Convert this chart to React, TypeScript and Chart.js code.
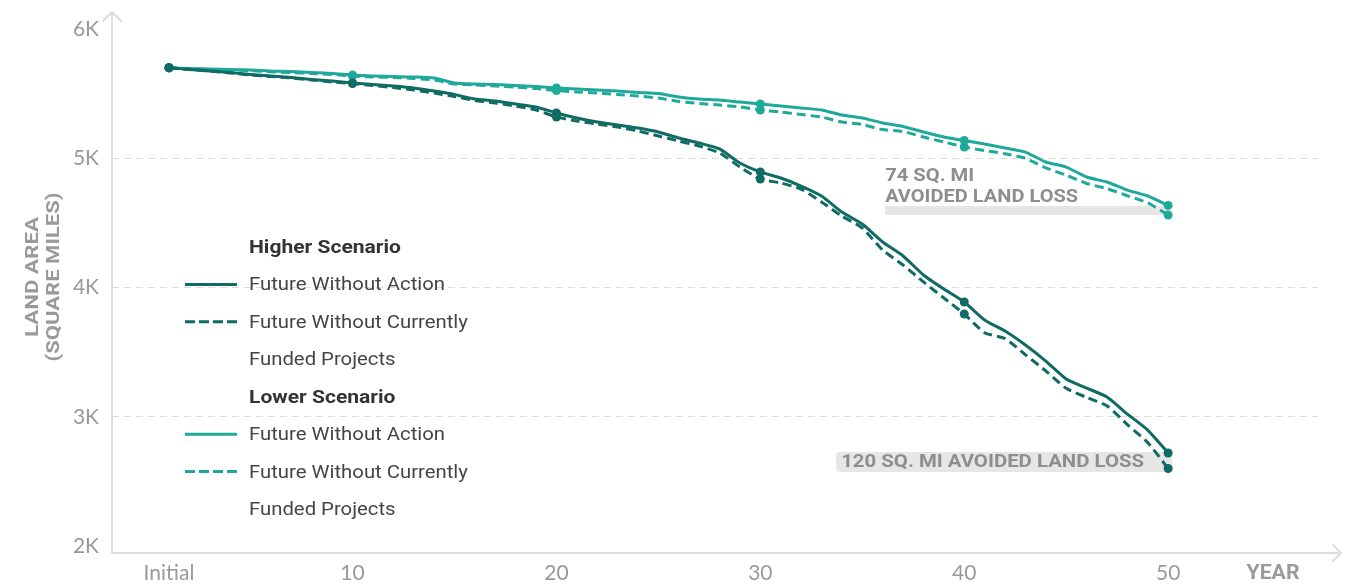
import React, { useEffect, useRef } from "react";
import { Chart, registerables } from "chart.js";

Chart.register(...registerables);

// ---------- DATA ----------
const years = [
  1, 2, 3, 4, 5, 6, 7, 8, 9, 10,
  11, 12, 13, 14, 15, 16, 17, 18, 19, 20,
  21, 22, 23, 24, 25, 26, 27, 28, 29, 30,
  31, 32, 33, 34, 35, 36, 37, 38, 39, 40,
  41, 42, 43, 44, 45, 46, 47, 48, 49, 50,
];

const higherWithoutAction = [
  5700, 5687, 5675, 5663, 5648, 5636, 5625, 5609, 5598, 5582,
  5571, 5559, 5544, 5520, 5493, 5458, 5443, 5420, 5397, 5350,
  5311, 5280, 5257, 5234, 5203, 5157, 5118, 5072, 4963, 4894,
  4847, 4785, 4708, 4584, 4491, 4352, 4244, 4097, 3988, 3888,
  3749, 3663, 3555, 3431, 3292, 3222, 3153, 3021, 2897, 2720,
];

const higherWithoutFunded = [
  5700, 5687, 5675, 5660, 5644, 5633, 5621, 5605, 5590, 5578,
  5563, 5547, 5528, 5505, 5478, 5447, 5427, 5404, 5373, 5319,
  5288, 5265, 5242, 5211, 5172, 5133, 5095, 5041, 4932, 4839,
  4809, 4762, 4662, 4553, 4460, 4290, 4174, 4043, 3919, 3795,
  3650, 3605, 3480, 3355, 3220, 3150, 3085, 2940, 2800, 2600,
];

const lowerWithoutAction = [
  5700, 5694, 5691, 5687, 5683, 5675, 5671, 5663, 5656, 5644,
  5636, 5632, 5629, 5621, 5582, 5574, 5571, 5563, 5555, 5544,
  5536, 5528, 5520, 5509, 5501, 5474, 5458, 5451, 5435, 5420,
  5404, 5389, 5373, 5335, 5311, 5273, 5246, 5203, 5164, 5137,
  5110, 5079, 5048, 4971, 4932, 4855, 4816, 4754, 4708, 4635,
];

const lowerWithoutFunded = [
  5700, 5692, 5687, 5683, 5677, 5669, 5663, 5656, 5648, 5636,
  5629, 5625, 5617, 5605, 5574, 5567, 5559, 5551, 5540, 5524,
  5513, 5505, 5493, 5482, 5466, 5439, 5424, 5412, 5397, 5373,
  5358, 5338, 5319, 5280, 5261, 5222, 5207, 5164, 5126, 5087,
  5060, 5035, 5000, 4925, 4870, 4805, 4765, 4710, 4655, 4561,
];

const markerYears = [1, 10, 20, 30, 40, 50];
const xTickValues = [1, 10, 20, 30, 40, 50];
const xTickLabels = ["Initial", "10", "20", "30", "40", "50"];
const yTickValues = [2000, 3000, 4000, 5000, 6000];
const yTickLabels = ["2K", "3K", "4K", "5K", "6K"];
const gridValues = [3000, 4000, 5000];

const scenarioTitles = ["Higher Scenario", "Lower Scenario"];
const seriesLegendLines = [
  ["Future Without Action"],
  ["Future Without Currently", "Funded Projects"],
];
const yTitleLines = ["LAND AREA", "(SQUARE MILES)"];
const xTitle = "YEAR";
const lowerAnnotation = ["74 SQ. MI", "AVOIDED LAND LOSS"];
const higherAnnotation = "120 SQ. MI AVOIDED LAND LOSS";

// ---------- STYLE ----------
const DARK = "#0f6b63";
const LIGHT = "#1fa99a";
const AXIS = "#deded9";
const GRID = "#dcdcdc";
const TICK = "#999999";
const ANNOT = "#8e8e8e";
const DASH = [9, 5];

function fitText(
  ctx: CanvasRenderingContext2D,
  text: string,
  x: number,
  y: number,
  width: number,
  font: string,
  color: string,
  align: "left" | "center" = "left"
) {
  ctx.save();
  ctx.font = font;
  const w = ctx.measureText(text).width;
  const sx = width / w;
  ctx.translate(x, y);
  ctx.scale(sx, 1);
  ctx.fillStyle = color;
  ctx.textBaseline = "middle";
  ctx.textAlign = align;
  ctx.fillText(text, 0, 0);
  ctx.restore();
}

export default function App() {
  const ref = useRef<HTMLCanvasElement>(null);

  useEffect(() => {
    const canvas = ref.current;
    if (!canvas) return;

    const toPoints = (vals: number[]) => years.map((x, i) => ({ x, y: vals[i] }));
    const pointR = (c: any) => (c.raw && markerYears.includes(c.raw.x) ? 4.5 : 0);

    const decor = {
      id: "decor",
      beforeDatasetsDraw(chart: any) {
        const { ctx, chartArea: a, scales } = chart;
        const xs = scales.x;
        const ys = scales.y;
        ctx.save();
        // axes with arrows
        ctx.strokeStyle = AXIS;
        ctx.lineWidth = 2;
        ctx.lineCap = "round";
        ctx.lineJoin = "round";
        ctx.beginPath();
        ctx.moveTo(a.left, a.bottom);
        ctx.lineTo(a.left, 12);
        ctx.moveTo(a.left - 9, 21);
        ctx.lineTo(a.left, 12);
        ctx.lineTo(a.left + 9, 21);
        const xEnd = chart.width - 4;
        ctx.moveTo(a.left, a.bottom);
        ctx.lineTo(xEnd, a.bottom);
        ctx.moveTo(xEnd - 8, a.bottom - 8);
        ctx.lineTo(xEnd, a.bottom);
        ctx.lineTo(xEnd - 8, a.bottom + 8);
        ctx.stroke();

        // annotations
        const last = years.length - 1;
        const xe = xs.getPixelForValue(years[last]);
        const yLow = ys.getPixelForValue(lowerWithoutFunded[last]);
        const yHigh = ys.getPixelForValue(higherWithoutAction[last]);

        ctx.fillStyle = "#e6e6e6";
        ctx.fillRect(xe - 283, yLow - 9, 283, 9);
        fitText(ctx, lowerAnnotation[0], xe - 283, yLow - 39, 89, "bold 19px Roboto", ANNOT);
        fitText(ctx, lowerAnnotation[1], xe - 283, yLow - 18, 193, "bold 19px Roboto", ANNOT);

        ctx.fillStyle = "#e6e6e6";
        ctx.beginPath();
        (ctx as any).roundRect(xe - 332, yHigh - 1, 336, 20, 4);
        ctx.fill();
        fitText(ctx, higherAnnotation, xe - 327, yHigh + 9, 303, "bold 19px Roboto", ANNOT);
        ctx.restore();
      },
      afterDraw(chart: any) {
        const { ctx } = chart;
        ctx.save();
        // legend
        const rowY0 = 248.5;
        const step = 37.43;
        const textX = 249;
        const colors = [DARK, LIGHT];
        let row = 0;
        ctx.font = "18px Roboto";
        const normalScale = 196 / ctx.measureText(seriesLegendLines[0][0]).width;
        ctx.font = "bold 18px Roboto";
        const boldScale = 152 / ctx.measureText(scenarioTitles[0]).width;
        const drawScaled = (t: string, y: number, font: string, s: number, color: string) => {
          ctx.save();
          ctx.font = font;
          ctx.translate(textX, y);
          ctx.scale(s, 1);
          ctx.fillStyle = color;
          ctx.textBaseline = "middle";
          ctx.textAlign = "left";
          ctx.fillText(t, 0, 0);
          ctx.restore();
        };
        scenarioTitles.forEach((title, g) => {
          drawScaled(title, rowY0 + step * row, "bold 18px Roboto", boldScale, "#333333");
          row++;
          seriesLegendLines.forEach((lines, k) => {
            const y = rowY0 + step * row - 1.5;
            ctx.save();
            ctx.strokeStyle = colors[g];
            ctx.lineWidth = 3;
            ctx.setLineDash(k === 1 ? [10, 4] : []);
            ctx.beginPath();
            ctx.moveTo(185, y);
            ctx.lineTo(237, y);
            ctx.stroke();
            ctx.restore();
            lines.forEach((ln) => {
              drawScaled(ln, rowY0 + step * row, "18px Roboto", normalScale, "#454545");
              row++;
            });
          });
        });

        // y title (rotated)
        ctx.save();
        ctx.translate(33, 277);
        ctx.rotate(-Math.PI / 2);
        fitText(ctx, yTitleLines[0], 0, 0, 120, "bold 18px Roboto", "#9a9a9a", "center");
        fitText(ctx, yTitleLines[1], 0, 21, 169, "bold 18px Roboto", "#9a9a9a", "center");
        ctx.restore();

        // x title
        fitText(ctx, xTitle, 1273, 574, 53, "bold 20px Roboto", "#9a9a9a", "center");
        ctx.restore();
      },
    };

    const tickFont = { family: "Lato", size: 21, weight: "normal" as any };

    const chart = new Chart(canvas, {
      type: "line",
      data: {
        datasets: [
          {
            label: "Higher: " + seriesLegendLines[0].join(" "),
            data: toPoints(higherWithoutAction),
            borderColor: DARK,
            backgroundColor: DARK,
            borderWidth: 3,
            pointRadius: pointR,
            pointBorderWidth: 0,
            pointBackgroundColor: DARK,
            tension: 0.2,
          },
          {
            label: "Higher: " + seriesLegendLines[1].join(" "),
            data: toPoints(higherWithoutFunded),
            borderColor: DARK,
            backgroundColor: DARK,
            borderWidth: 3,
            borderDash: DASH,
            pointRadius: pointR,
            pointBorderWidth: 0,
            pointBackgroundColor: DARK,
            tension: 0.2,
          },
          {
            label: "Lower: " + seriesLegendLines[0].join(" "),
            data: toPoints(lowerWithoutAction),
            borderColor: LIGHT,
            backgroundColor: LIGHT,
            borderWidth: 3,
            pointRadius: pointR,
            pointBorderWidth: 0,
            pointBackgroundColor: LIGHT,
            tension: 0.2,
          },
          {
            label: "Lower: " + seriesLegendLines[1].join(" "),
            data: toPoints(lowerWithoutFunded),
            borderColor: LIGHT,
            backgroundColor: LIGHT,
            borderWidth: 3,
            borderDash: DASH,
            pointRadius: pointR,
            pointBorderWidth: 0,
            pointBackgroundColor: LIGHT,
            tension: 0.2,
          },
        ],
      },
      options: {
        animation: false,
        responsive: true,
        maintainAspectRatio: false,
        layout: { padding: { top: 29, right: 27, left: 0, bottom: 0 } },
        plugins: {
          legend: { display: false },
          tooltip: { enabled: false },
        },
        scales: {
          x: {
            type: "linear",
            min: -1.796,
            max: 57.35,
            grid: { display: false, drawTicks: false },
            border: { display: false },
            afterBuildTicks: (scale: any) => {
              scale.ticks = xTickValues.map((v) => ({ value: v }));
            },
            afterFit: (scale: any) => {
              scale.height = 34;
            },
            ticks: {
              autoSkip: false,
              maxRotation: 0,
              padding: 8,
              color: TICK,
              font: tickFont,
              callback: (v: any) => {
                const i = xTickValues.indexOf(Number(v));
                return i >= 0 ? xTickLabels[i] : "";
              },
            },
          },
          y: {
            type: "linear",
            min: 1946,
            max: 6000,
            grid: {
              drawTicks: false,
              lineWidth: 1,
              color: (c: any) => (c.tick && gridValues.includes(c.tick.value) ? GRID : "rgba(0,0,0,0)"),
            },
            border: { display: false, dash: [7, 5] },
            afterBuildTicks: (scale: any) => {
              scale.ticks = yTickValues.map((v) => ({ value: v }));
            },
            afterFit: (scale: any) => {
              scale.width = 112;
            },
            ticks: {
              padding: 13,
              color: TICK,
              font: tickFont,
              callback: (v: any) => {
                const i = yTickValues.indexOf(Number(v));
                return i >= 0 ? yTickLabels[i] : "";
              },
            },
          },
        },
      },
      plugins: [decor],
    });

    return () => chart.destroy();
  }, []);

  return (
    <div style={{ position: "fixed", left: 0, top: 0, width: 1345, height: 587, background: "#fff" }}>
      <canvas ref={ref} />
    </div>
  );
}
